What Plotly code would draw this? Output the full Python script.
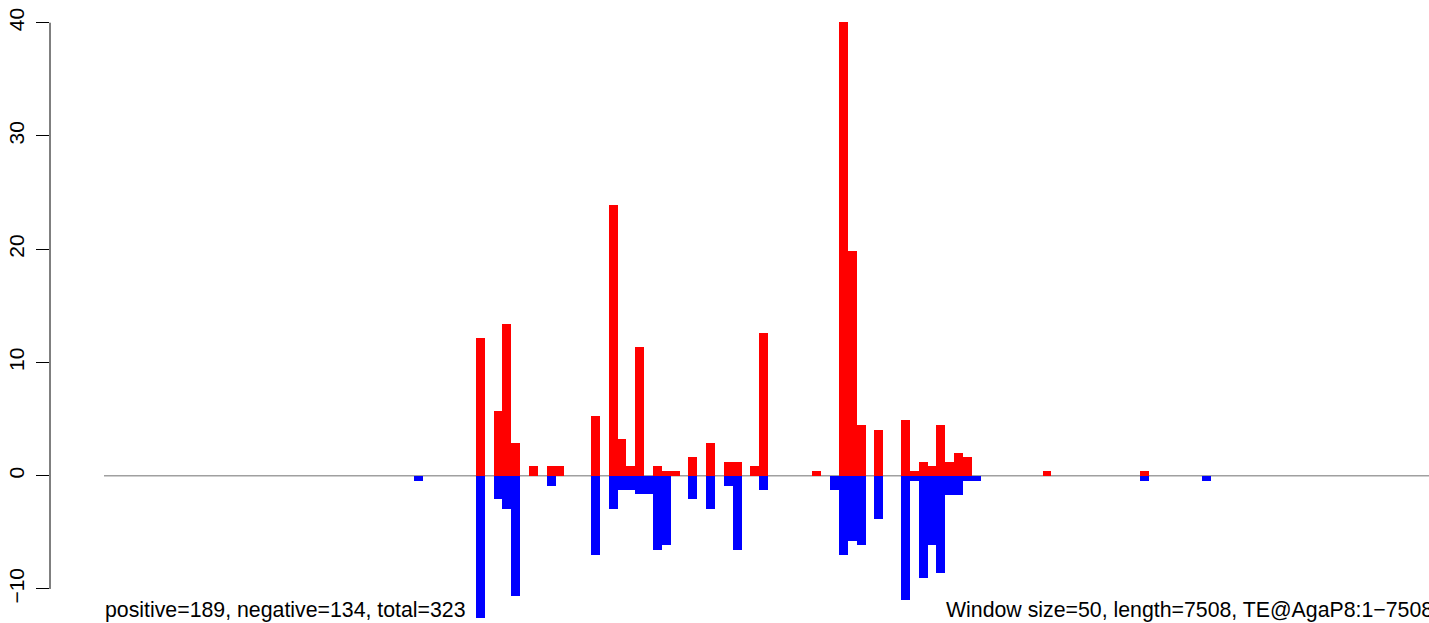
import plotly.graph_objects as go

# ---- data ----
window_size = 50
seq_length = 7508

pos_windows = [42, 44, 45, 46, 48, 50, 51, 55, 57, 58, 59, 60, 62, 63, 64, 66, 68, 70, 71, 73, 74,
               80, 83, 84, 85, 87, 90, 91, 92, 93, 94, 95, 96, 97, 106, 117]
pos_values = [12.2, 5.7, 13.4, 2.9, 0.85, 0.85, 0.85, 5.3, 23.9, 3.2, 0.85, 11.4, 0.85, 0.42, 0.42,
              1.65, 2.9, 1.2, 1.2, 0.85, 12.6, 0.42, 40.1, 19.8, 4.45, 4.0, 4.9, 0.42, 1.2, 0.85,
              4.45, 1.2, 2.0, 1.65, 0.42, 0.42]

neg_windows = [35, 42, 44, 45, 46, 50, 55, 57, 58, 59, 60, 61, 62, 63, 66, 68, 70, 71, 74,
               82, 83, 84, 85, 87, 90, 91, 92, 93, 94, 95, 96, 97, 98, 117, 124]
neg_values = [-0.46, -12.6, -2.06, -2.94, -10.6, -0.9, -7.0, -2.94, -1.27, -1.27, -1.65, -1.65,
              -6.6, -6.1, -2.06, -2.94, -0.9, -6.6, -1.27, -1.26, -7.0, -5.8, -6.1, -3.8, -11.0,
              -0.46, -9.05, -6.1, -8.6, -1.68, -1.68, -0.46, -0.46, -0.46, -0.46]

y_ticks = [-10, 0, 10, 20, 30, 40]
left_label = "positive=189, negative=134, total=323"
right_label = "Window size=50, length=7508, TE@AgaP8:1\u22127508"

# ---- layout constants ----
W, H = 1429, 623
ML = 50
x_min, x_max = -304.9, 7481.6
y_min, y_max = -13.007, 42.004
FONT = "Liberation Sans, Arial, Helvetica, sans-serif"
TXT = 21.3

fig = go.Figure()
fig.add_trace(go.Bar(
    x=[w * window_size + window_size / 2 for w in pos_windows], y=pos_values,
    width=window_size, marker=dict(color="#FF0000", line=dict(width=0)), showlegend=False,
    hoverinfo="skip"))
fig.add_trace(go.Bar(
    x=[w * window_size + window_size / 2 for w in neg_windows], y=neg_values,
    width=window_size, marker=dict(color="#0000FF", line=dict(width=0)), showlegend=False,
    hoverinfo="skip"))

fig.update_layout(
    width=W, height=H,
    margin=dict(l=ML, r=0, t=0, b=0, pad=0, autoexpand=False),
    paper_bgcolor="white", plot_bgcolor="white",
    barmode="overlay", bargap=0,
    font=dict(family=FONT, size=21, color="black"),
    xaxis=dict(visible=False, range=[x_min, x_max], fixedrange=True, automargin=False),
    yaxis=dict(range=[y_min, y_max], tickvals=y_ticks, showgrid=False, zeroline=False,
               showline=False, ticks="outside", ticklen=13, tickwidth=1, tickcolor="black",
               tickangle=-90, tickfont=dict(family=FONT, size=21, color="black"),
               ticklabelstandoff=4, automargin=False, fixedrange=True),
    shapes=[
        dict(type="line", xref="x", yref="y", x0=0, x1=seq_length + 100, y0=0, y1=0,
             line=dict(color="#A0A0A0", width=1.5), layer="below"),
        dict(type="line", xref="paper", yref="y", x0=0, x1=0, y0=y_ticks[0], y1=y_ticks[-1],
             line=dict(color="black", width=1)),
    ],
    annotations=[
        dict(text=left_label, xref="x", yref="y", x=0, y=-11.85, xanchor="left",
             yanchor="middle", showarrow=False, borderpad=0,
             font=dict(family=FONT, size=TXT, color="black")),
        dict(text=right_label, xref="paper", yref="y",
             x=(seq_length - x_min) / (x_max - x_min), y=-11.85, xanchor="right",
             yanchor="middle", showarrow=False, borderpad=0,
             font=dict(family=FONT, size=TXT, color="black")),
    ],
)

fig.write_html(
    "out.html",
    config={"displayModeBar": False},
    post_script="document.body.style.margin='0';document.body.style.overflow='hidden';",
)
